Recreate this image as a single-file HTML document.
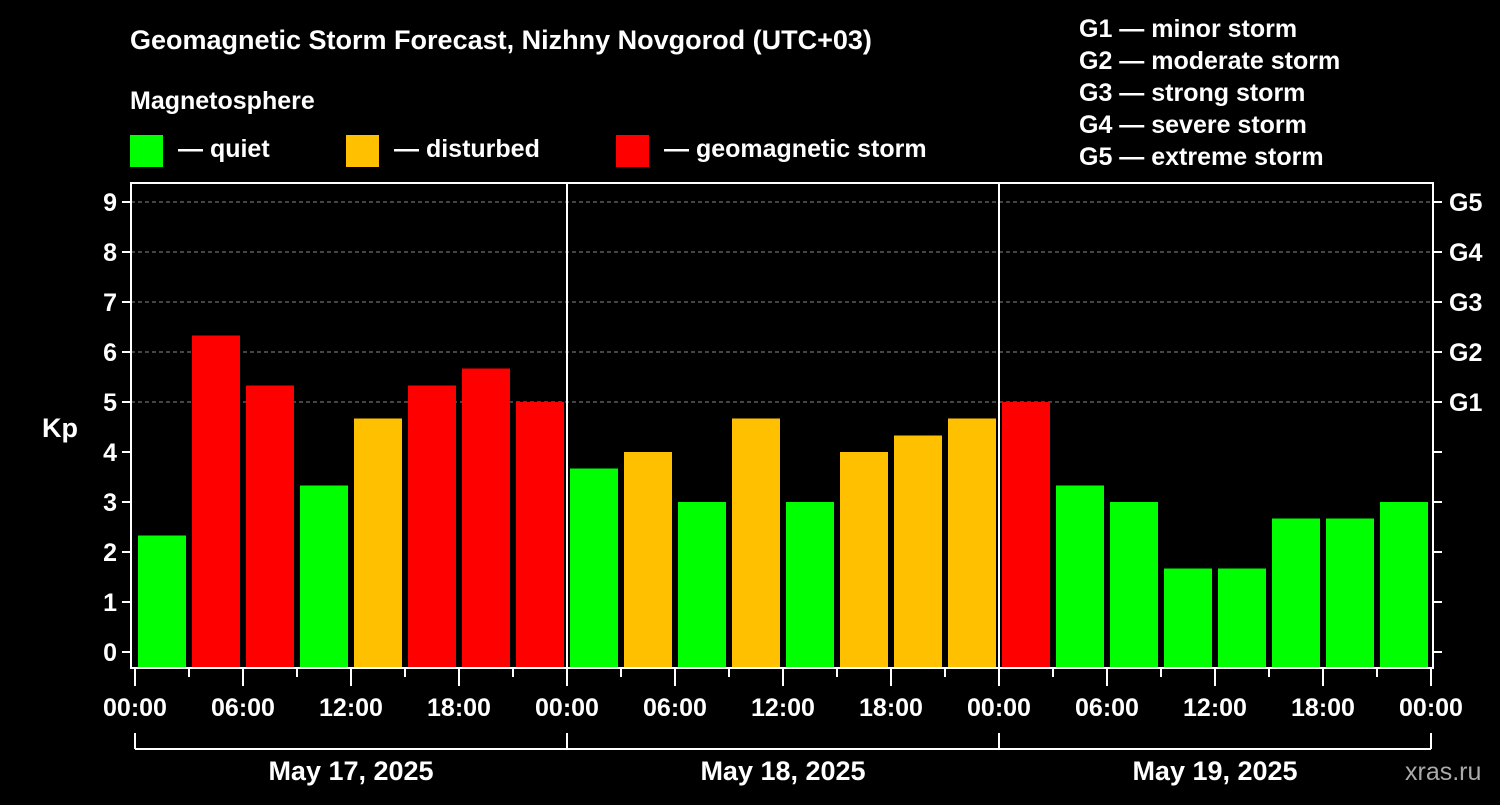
<!DOCTYPE html>
<html><head><meta charset="utf-8"><style>
body{margin:0;background:#000;width:1500px;height:800px;overflow:hidden}
svg text{font-family:"Liberation Sans",Arial,sans-serif;font-weight:bold;fill:#fff}
</style></head><body>
<svg id="c" width="1500" height="800" xmlns="http://www.w3.org/2000/svg">
<rect width="1500" height="800" fill="#000"/>
<text x="130" y="49" font-size="27">Geomagnetic Storm Forecast, Nizhny Novgorod (UTC+03)</text>
<text x="130" y="109" font-size="25">Magnetosphere</text>
<g><rect x="130" y="135" width="33" height="32" fill="#00ff00"/><text x="178" y="157" font-size="25">— quiet</text></g>
<g><rect x="346" y="135" width="33" height="32" fill="#ffc000"/><text x="394" y="157" font-size="25">— disturbed</text></g>
<g><rect x="616" y="135" width="33" height="32" fill="#ff0000"/><text x="664" y="157" font-size="25">— geomagnetic storm</text></g>
<g font-size="25">
<text x="1079" y="37">G1 — minor storm</text><text x="1079" y="69">G2 — moderate storm</text><text x="1079" y="101">G3 — strong storm</text><text x="1079" y="133">G4 — severe storm</text><text x="1079" y="165">G5 — extreme storm</text></g>
<text x="42" y="437" font-size="27">Kp</text>
<text x="1405" y="780" font-size="25" fill="#aaa" style="fill:#aaa;font-weight:normal">xras.ru</text>
<g id="plot"></g>
</svg>
<script>
const days = ["May 17, 2025","May 18, 2025","May 19, 2025"];
const kpValues = [2.33,6.33,5.33,3.33,4.67,5.33,5.67,5.0, 3.67,4.0,3.0,4.67,3.0,4.0,4.33,4.67, 5.0,3.33,3.0,1.67,1.67,2.67,2.67,3.0];
const yTicks = [0,1,2,3,4,5,6,7,8,9];
const gLabels = ["G1","G2","G3","G4","G5"];
const hourLabels = ["00:00","06:00","12:00","18:00"];
const ns="http://www.w3.org/2000/svg";
const g=document.getElementById('plot');
const L=131,R=1433,T=183,B=668,X0=135,DAYW=432;
const y=v=>652-v*50;
const x=h=>X0+h*DAYW/24;
function el(t,a,p){const e=document.createElementNS(ns,t);for(const k in a)e.setAttribute(k,a[k]);(p||g).appendChild(e);return e;}
// grid
for(let v=5;v<=9;v++){const e=el('line',{x1:L,x2:R,y1:y(v),y2:y(v),stroke:'#888','stroke-dasharray':'4,3','stroke-width':1});

}
// bars
kpValues.forEach((v,i)=>{const c=v>=5?'#ff0000':(v>=4?'#ffc000':'#00ff00');
const e=el('rect',{x:x(i*3)+3,y:y(v),width:48,height:B-y(v),fill:c});

});
// frame
const f=el('rect',{x:L,y:T,width:R-L,height:B-T,fill:'none',stroke:'#fff','stroke-width':2});


for(let d=1;d<days.length;d++){const e=el('line',{x1:x(d*24),x2:x(d*24),y1:T,y2:B,stroke:'#fff','stroke-width':2});

}
// y ticks
yTicks.forEach(v=>{el('line',{x1:L-9,x2:L,y1:y(v),y2:y(v),stroke:'#fff','stroke-width':2});
el('line',{x1:R,x2:R+9,y1:y(v),y2:y(v),stroke:'#fff','stroke-width':2});
const t=el('text',{x:L-14,y:y(v)+9,'font-size':25,'text-anchor':'end'});t.textContent=v;

});
gLabels.forEach((s,i)=>{const t=el('text',{x:1449,y:y(5+i)+9,'font-size':25});t.textContent=s;

});
// x ticks
for(let h=0;h<=72;h+=3){const major=h%6===0;el('line',{x1:x(h),x2:x(h),y1:B,y2:B+(major?18:9),stroke:'#fff','stroke-width':2});
if(major){const t=el('text',{x:x(h),y:716,'font-size':25,'text-anchor':'middle'});t.textContent=hourLabels[(h%24)/6];

}}
// day bracket
el('line',{x1:x(0),x2:x(72),y1:749,y2:749,stroke:'#fff','stroke-width':2});
for(let d=0;d<=days.length;d++)el('line',{x1:x(d*24),x2:x(d*24),y1:733,y2:749,stroke:'#fff','stroke-width':2});
days.forEach((s,d)=>{const t=el('text',{x:x(d*24+12),y:780,'font-size':27,'text-anchor':'middle'});t.textContent=s;

});
</script>
</body></html>
